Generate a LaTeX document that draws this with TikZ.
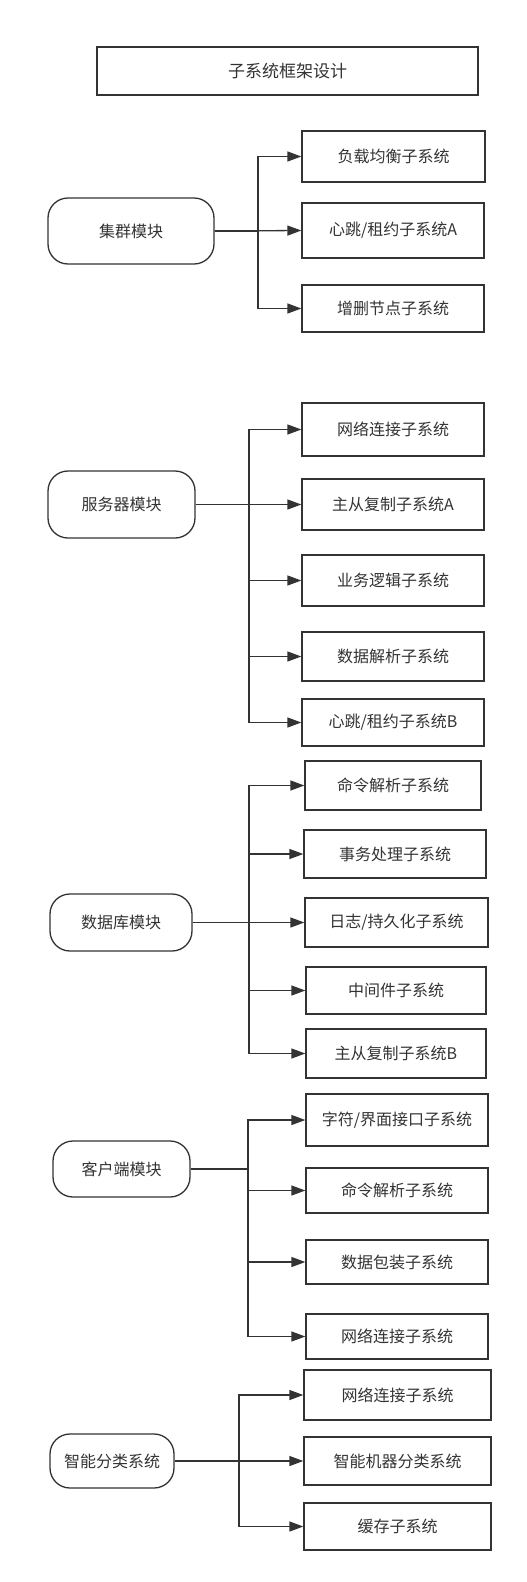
\documentclass[tikz,border=0pt]{standalone}
\usepackage{fontspec}
\newfontfamily\cjk{Noto Sans CJK SC}
\usetikzlibrary{arrows.meta}
\definecolor{ligne}{HTML}{333333}
\tikzset{
  titre/.style={draw=ligne, line width=1.3pt, minimum width=381pt, minimum height=48pt, inner sep=0pt, text=ligne, font=\cjk\fontsize{17}{20}\selectfont},
  module/.style={draw=ligne, line width=1.3pt, rounded corners=20pt, inner sep=0pt, text=ligne, font=\cjk\fontsize{16}{19}\selectfont},
  sousys/.style={draw=ligne, line width=1.3pt, inner sep=0pt, text=ligne, font=\cjk\fontsize{16}{19}\selectfont},
  lien/.style={draw=ligne, line width=1.3pt, -{Triangle[length=14pt,width=10pt]}},
}
\begin{document}
\begin{tikzpicture}[x=1pt, y=-1pt]
\useasboundingbox(0,0)rectangle(527,1582);
\node[titre](T)at(287.5,71){子系统框架设计};
%
\node[module, minimum width=166pt, minimum height=66pt](JQ)at(131,231){集群模块};
\node[sousys, minimum width=183pt, minimum height=51pt](JQ1)at(393.5,156.5){负载均衡子系统};
\node[sousys, minimum width=182pt, minimum height=55pt](JQ2)at(393,230.5){心跳/租约子系统A};
\node[sousys, minimum width=182pt, minimum height=47pt](JQ3)at(393,308.5){增删节点子系统};
\coordinate(JQbus)at(258,231);
\draw[lien](JQ.east)--(JQ.east-|JQbus)|-(JQ1.west);
\draw[lien](JQ.east)--(JQ2.west);
\draw[lien](JQ.east)--(JQ.east-|JQbus)|-(JQ3.west);
%
\node[module, minimum width=147pt, minimum height=67pt](FW)at(121.5,504.5){服务器模块};
\node[sousys, minimum width=182pt, minimum height=53pt](FW1)at(393,429.5){网络连接子系统};
\node[sousys, minimum width=182pt, minimum height=51pt](FW2)at(393,504.5){主从复制子系统A};
\node[sousys, minimum width=182pt, minimum height=51pt](FW3)at(393,580.5){业务逻辑子系统};
\node[sousys, minimum width=182pt, minimum height=49pt](FW4)at(393,656.5){数据解析子系统};
\node[sousys, minimum width=182pt, minimum height=47pt](FW5)at(393,722.5){心跳/租约子系统B};
\coordinate(FWbus)at(249,504.5);
\draw[lien](FW.east)--(FW.east-|FWbus)|-(FW1.west);
\draw[lien](FW.east)--(FW2.west);
\draw[lien](FW.east)--(FW.east-|FWbus)|-(FW3.west);
\draw[lien](FW.east)--(FW.east-|FWbus)|-(FW4.west);
\draw[lien](FW.east)--(FW.east-|FWbus)|-(FW5.west);
%
\node[module, minimum width=142pt, minimum height=57pt](SJ)at(121,922.5){数据库模块};
\node[sousys, minimum width=176pt, minimum height=49pt](SJ1)at(393,785.5){命令解析子系统};
\node[sousys, minimum width=182pt, minimum height=48pt](SJ2)at(395,854){事务处理子系统};
\node[sousys, minimum width=183pt, minimum height=49pt](SJ3)at(396.5,922.5){日志/持久化子系统};
\node[sousys, minimum width=180pt, minimum height=47pt](SJ4)at(396,990.5){中间件子系统};
\node[sousys, minimum width=180pt, minimum height=49pt](SJ5)at(396,1053.5){主从复制子系统B};
\coordinate(SJbus)at(249,922.5);
\draw[lien](SJ.east)--(SJ.east-|SJbus)|-(SJ1.west);
\draw[lien](SJ.east)--(SJ.east-|SJbus)|-(SJ2.west);
\draw[lien](SJ.east)--(SJ3.west);
\draw[lien](SJ.east)--(SJ.east-|SJbus)|-(SJ4.west);
\draw[lien](SJ.east)--(SJ.east-|SJbus)|-(SJ5.west);
%
\node[module, minimum width=137pt, minimum height=56pt](KH)at(121.5,1169){客户端模块};
\node[sousys, minimum width=182pt, minimum height=52pt](KH1)at(397,1120){字符/界面接口子系统};
\node[sousys, minimum width=182pt, minimum height=45pt](KH2)at(397,1190.5){命令解析子系统};
\node[sousys, minimum width=182pt, minimum height=44pt](KH3)at(397,1262){数据包装子系统};
\node[sousys, minimum width=182pt, minimum height=45pt](KH4)at(397,1336.5){网络连接子系统};
\coordinate(KHbus)at(248,1169);
\draw[lien](KH.east)--(KH.east-|KHbus)|-(KH1.west);
\draw[lien](KH.east)--(KH.east-|KHbus)|-(KH2.west);
\draw[lien](KH.east)--(KH.east-|KHbus)|-(KH3.west);
\draw[lien](KH.east)--(KH.east-|KHbus)|-(KH4.west);
%
\node[module, minimum width=124pt, minimum height=54pt](ZN)at(112,1461){智能分类系统};
\node[sousys, minimum width=187pt, minimum height=50pt](ZN1)at(397.5,1395){网络连接子系统};
\node[sousys, minimum width=187pt, minimum height=48pt](ZN2)at(397.5,1461){智能机器分类系统};
\node[sousys, minimum width=187pt, minimum height=47pt](ZN3)at(397.5,1526.5){缓存子系统};
\coordinate(ZNbus)at(239,1461);
\draw[lien](ZN.east)--(ZN.east-|ZNbus)|-(ZN1.west);
\draw[lien](ZN.east)--(ZN2.west);
\draw[lien](ZN.east)--(ZN.east-|ZNbus)|-(ZN3.west);
\end{tikzpicture}
\end{document}
